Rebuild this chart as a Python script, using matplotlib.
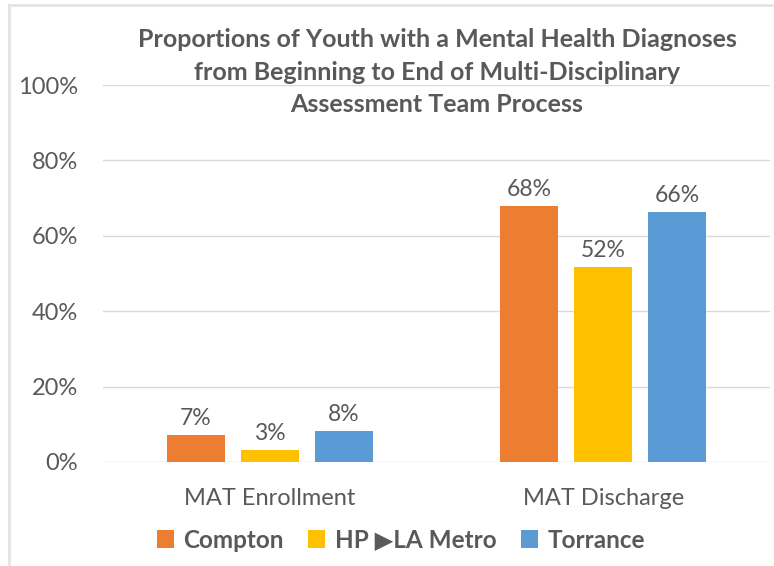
import matplotlib
matplotlib.use("Agg")
import matplotlib.pyplot as plt
import numpy as np
from matplotlib.lines import Line2D
from matplotlib.patches import Patch

categories = ["MAT Enrollment", "MAT Discharge"]
series_names = ["Compton", "HP \u25B6LA Metro", "Torrance"]
compton = [7.2, 68.0]
hp_la_metro = [3.3, 51.7]
torrance = [8.3, 66.3]
series_values = [compton, hp_la_metro, torrance]
colors = ["#ED7D31", "#FFC000", "#5B9BD5"]
yticks = [0, 20, 40, 60, 80, 100]
title = ("Proportions of Youth with a Mental Health Diagnoses\n"
         "from Beginning to End of Multi-Disciplinary\n"
         "Assessment Team Process")

plt.rcParams['font.family'] = ['Lato', 'DejaVu Sans']
txt = "#595959"

fig = plt.figure(figsize=(7.74, 5.66), dpi=100)
ax = fig.add_axes([103/774, 1-462/566, (770-103)/774, (462-85)/566])

x = np.arange(len(categories))
width = 0.174
step = 0.222
for i, (vals, c) in enumerate(zip(series_values, colors)):
    pos = x + (i - 1) * step
    ax.bar(pos, vals, width, color=c, zorder=3, label=series_names[i])
    for p, v in zip(pos, vals):
        ax.text(p, v + 1.6, f"{round(v):d}%", ha="center", va="bottom",
                fontsize=16.5, color=txt)

ax.set_xlim(-0.5, 1.5)
ax.set_ylim(0, 100)
ax.set_yticks(yticks)
ax.set_yticklabels([f"{t}%" for t in yticks], fontsize=17, color=txt)
ax.set_xticks(x)
ax.set_xticklabels(categories, fontsize=17, color=txt)
ax.tick_params(axis="both", length=0)
ax.tick_params(axis="y", pad=18)
ax.tick_params(axis="x", pad=19)
ax.grid(axis="y", color="#d9d9d9", linewidth=1, zorder=0)
for s in ax.spines.values():
    s.set_visible(False)

fig.text(437/774, 1-72/566, title, ha="center", va="center", fontsize=18,
         fontweight="bold", color=txt, linespacing=1.5)

handles = [Patch(facecolor=c) for c in colors]
leg = fig.legend(handles, series_names, loc="center", bbox_to_anchor=(401/774, 1-540/566),
                 ncol=3, frameon=False, handlelength=0.7, handleheight=0.7,
                 handletextpad=0.4, columnspacing=1.0,
                 prop={"size": 17.5, "weight": "bold"})
for t in leg.get_texts():
    t.set_color(txt)

# chart border
fig.add_artist(Line2D([9/774, 9/774], [0, 1-5/566], transform=fig.transFigure,
                      color="#e3e3e3", linewidth=2))
fig.add_artist(Line2D([9/774, 1], [1-5/566, 1-5/566], transform=fig.transFigure,
                      color="#e3e3e3", linewidth=2))

fig.savefig("out.png", dpi=100, facecolor="white")
